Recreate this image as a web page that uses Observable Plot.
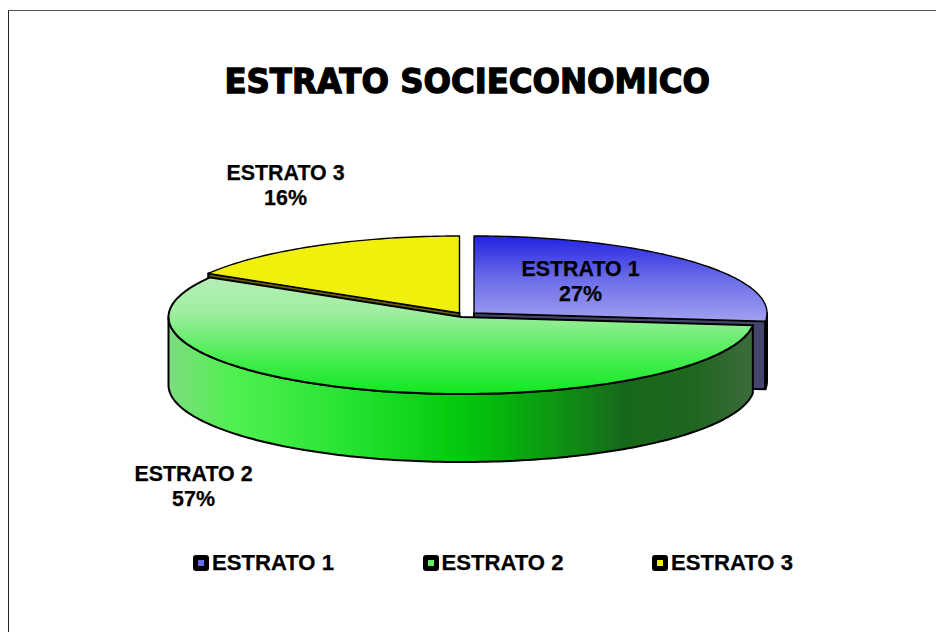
<!DOCTYPE html>
<html>
<head>
<meta charset="utf-8">
<script src="https://cdn.jsdelivr.net/npm/d3@7"></script>
<script src="https://cdn.jsdelivr.net/npm/@observablehq/plot@0.6"></script>
<style>
  html, body { margin: 0; padding: 0; background: #fff; overflow: hidden; }
  body { width: 936px; height: 632px; position: relative; font-family: "Liberation Sans", Arial, sans-serif; color: #000; }
  #frame { position: absolute; left: 8px; top: 10px; right: -4px; bottom: -4px; border-left: 1px solid #222; border-top: 1px solid #555; }
  #title { position: relative; height: 140px; box-sizing: border-box; padding-top: 61px; text-align: center;
           font: bold 33px/42px "DejaVu Sans", sans-serif; -webkit-text-stroke: 1.3px #000; }
  #title span { display: inline-block; transform: translateX(-0.5px) scaleX(0.98); transform-origin: center; }
  #chart { position: relative; height: 390px; }
  #chart svg { display: block; background: transparent; }
  #legend { position: relative; margin-left: 193px; margin-top: 20px; display: flex; font: bold 22.1px/26px "Liberation Sans", Arial, sans-serif; -webkit-text-stroke: 0.25px #000; }
  .item { width: 229.5px; display: flex; align-items: center; white-space: nowrap; }
  .swatch { width: 16px; height: 16px; background: #000; border-radius: 3px; margin-right: 3px; display: flex; align-items: center; justify-content: center; }
  .swatch i { display: block; width: 6px; height: 6px; }
</style>
</head>
<body>
<div id="frame"></div>
<div id="title"><span></span></div>
<div id="chart"></div>
<div id="legend"></div>
<script>
// Data
const chartTitle = "ESTRATO SOCIECONOMICO";
const categories = ["ESTRATO 1", "ESTRATO 2", "ESTRATO 3"];
const shares = [26.7, 56.9, 16.4];

// Drawing settings
const W = 936, H = 390, cx = 461, cy = 176.5, rx = 293, ry = 77;
const depth = 68 / ry;
const explode = [[12.5 / rx, -4 / ry], [0, 0], [-2 / rx, -4 / ry]];
const swatches = ["#6a6af2", "#66ee66", "#f2f010"];
const labelAnchors = [[119 / rx, -36.5 / ry], [-268 / rx, 168 / ry], [-176 / rx, -132.5 / ry]];

// Slice angles from the shares, clockwise from 12 o'clock
const total = d3.sum(shares);
const ends = Array.from(d3.cumsum(shares), v => v / total * 2 * Math.PI);
const starts = [0, ...ends.slice(0, -1)];

const rim = (a0, a1, off, dz = 0) => {
  const n = Math.max(2, Math.ceil((a1 - a0) / 0.02));
  return d3.range(n + 1).map(i => {
    const a = a0 + (a1 - a0) * i / n;
    return { x: off[0] + Math.sin(a), y: off[1] - Math.cos(a) + dz };
  });
};
const apex = (off, dz = 0) => ({ x: off[0], y: off[1] + dz });
const close = pts => [...pts, pts[0]];

const topFace = i => close([apex(explode[i]), ...rim(starts[i], ends[i], explode[i])]);
const cutFace = (i, a) => {
  const e = rim(a, a, explode[i])[0];
  return close([apex(explode[i]), e, { x: e.x, y: e.y + depth }, apex(explode[i], depth)]);
};
const wall = (i, a0, a1) => {
  const upper = rim(a0, a1, explode[i]);
  const lower = rim(a0, a1, explode[i], depth).reverse();
  return close([...upper, ...lower]);
};

const face = (pts, fill, strokeWidth = 2) =>
  Plot.line(pts, { x: "x", y: "y", fill, stroke: "#000", strokeWidth, strokeLinejoin: "round", curve: "linear" });

const defs = () => {
  const d = d3.create("svg:defs");
  const grad = (id, horizontal, stops) => {
    const g = d.append("linearGradient").attr("id", id)
      .attr("x1", 0).attr("y1", 0).attr("x2", horizontal ? 1 : 0).attr("y2", horizontal ? 0 : 1);
    stops.forEach(([o, c]) => g.append("stop").attr("offset", o).attr("stop-color", c));
  };
  grad("blueTop", false, [[0, "#2222e4"], [0.5, "#6c6ce8"], [1, "#a0a0f0"]]);
  grad("greenTop", false, [[0, "#b6eeb6"], [0.3, "#a0eea0"], [0.65, "#50ee58"], [1, "#10e820"]]);
  grad("greenWall", true, [
    [0, "#7edc7e"], [0.11, "#50f050"], [0.3, "#28e432"], [0.48, "#06cc10"], [0.56, "#04b80a"],
    [0.72, "#128018"], [0.78, "#17681a"], [0.9, "#20661f"], [1, "#3c6c3c"]
  ]);
  return d.node();
};

const blue = 0, green = 1, yellow = 2;

const chart = Plot.plot({
  width: W, height: H,
  margin: 0,
  x: { domain: [-cx / rx, (W - cx) / rx], range: [0, W], axis: null },
  y: { domain: [-cy / ry, (H - cy) / ry], range: [0, H], axis: null },
  style: { background: "transparent", overflow: "visible" },
  marks: [
    defs,
    // blue slice: cut face and short rim, then top
    face(cutFace(blue, ends[blue]), "#44446c"),
    face(wall(blue, Math.PI / 2, ends[blue]), "#44446c"),
    face(topFace(blue), "url(#blueTop)", 1.4),
    // yellow slice
    face(cutFace(yellow, starts[yellow]), "#6a6000"),
    face(topFace(yellow), "#f0f00c", 1.4),
    // green slice: outer wall, then top
    face(wall(green, starts[green], 3 * Math.PI / 2), "url(#greenWall)"),
    face(topFace(green), "url(#greenTop)"),
    // labels
    Plot.text(categories.map((c, i) => ({ t: `${c}\n${Math.round(shares[i])}%`, x: labelAnchors[i][0], y: labelAnchors[i][1] })), {
      x: "x", y: "y", text: "t", fill: "#000", stroke: "#000", strokeWidth: 0.25, lineHeight: 1.17, fontSize: 21.4, fontWeight: "bold",
      fontFamily: "Liberation Sans, Arial, sans-serif", textAnchor: "middle"
    })
  ]
});
document.getElementById("chart").append(chart);

document.querySelector("#title span").textContent = chartTitle;

const legend = d3.select("#legend");
categories.forEach((c, i) => {
  const it = legend.append("div").attr("class", "item");
  it.append("div").attr("class", "swatch").append("i").style("background", swatches[i]);
  it.append("span").text(c);
});
</script>
</body>
</html>
